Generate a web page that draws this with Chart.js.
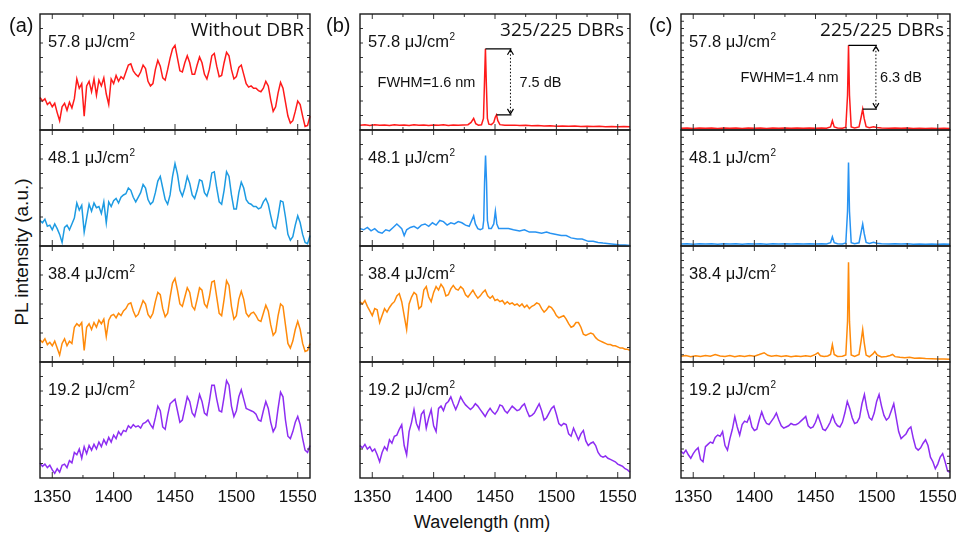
<!DOCTYPE html>
<html>
<head>
<meta charset="utf-8">
<script src="https://cdn.jsdelivr.net/npm/chart.js@4.4.1/dist/chart.umd.min.js"></script>
<style>
html,body{margin:0;padding:0;background:#fff;}
#fig{position:relative;width:958px;height:533px;overflow:hidden;font-family:"Liberation Sans",Arial,sans-serif;color:#111;}
.pane{position:absolute;}
.lbl{position:absolute;white-space:nowrap;line-height:1;}
</style>
</head>
<body>
<div id="fig">
  <div class="lbl" style="left:9px;top:15px;font-size:20px">(a)</div>
  <div class="lbl" style="left:326px;top:15px;font-size:20px">(b)</div>
  <div class="lbl" style="left:649px;top:15px;font-size:20px">(c)</div>
  <div class="lbl" style="left:21px;top:252px;font-size:19px;transform:translate(-50%,-50%) rotate(-90deg)">PL intensity (a.u.)</div>
  <div class="lbl" style="left:482px;top:522px;font-size:18px;transform:translate(-50%,-50%)">Wavelength (nm)</div>
</div>
<script>
// wavelength grid (nm) for the broad spectra
const WL = [
  1340,1342,1344,1346,1348,1350,1352,1354,1356,1358,
  1360,1362,1364,1366,1368,1370,1372,1374,1376,1378,
  1380,1382,1384,1386,1388,1390,1392,1394,1396,1398,
  1400,1402,1404,1406,1408,1410,1412,1414,1416,1418,
  1420,1422,1424,1426,1428,1430,1432,1434,1436,1438,
  1440,1442,1444,1446,1448,1450,1452,1454,1456,1458,
  1460,1462,1464,1466,1468,1470,1472,1474,1476,1478,
  1480,1482,1484,1486,1488,1490,1492,1494,1496,1498,
  1500,1502,1504,1506,1508,1510,1512,1514,1516,1518,
  1520,1522,1524,1526,1528,1530,1532,1534,1536,1538,
  1540,1542,1544,1546,1548,1550,1552,1554,1556,1558,
  1560
];
const X_TICKS = [1350, 1400, 1450, 1500, 1550];
const X_MINOR = [1375, 1425, 1475, 1525];
const FLUENCE = ['57.8', '48.1', '38.4', '19.2'];

// (a) without DBR
const a1 = [
  28,25,27,22,24,20,23,15,8,20,
  23,17,24,19,27,44,36,40,12,38,
  42,33,44,30,43,38,45,31,22,44,
  40,47,42,46,44,50,56,57,51,48,
  46,50,56,53,42,38,40,52,60,55,
  45,43,52,62,70,73,62,51,50,58,
  64,58,48,48,56,63,58,48,44,52,
  64,66,55,46,47,58,67,64,52,44,
  46,54,56,48,40,37,38,36,36,34,
  33,36,42,38,26,16,20,32,41,36,
  24,12,6,8,16,25,22,12,3,4,
  12
];
const a2 = [
  22,20,23,17,18,14,19,15,10,3,
  16,18,14,19,24,37,31,35,12,24,
  36,30,37,33,34,28,38,20,38,34,
  39,41,37,42,44,45,50,48,42,38,
  42,46,53,50,40,36,38,46,56,60,
  50,40,36,44,60,71,62,48,43,50,
  60,54,44,41,48,57,56,46,43,50,
  63,64,50,38,36,48,64,60,44,32,
  32,46,55,50,40,37,36,34,34,32,
  33,38,41,36,26,17,15,26,39,38,
  25,10,5,8,18,26,20,10,3,2,
  9
];
const a3 = [
  19,17,20,15,17,14,18,12,6,16,
  20,14,18,16,30,33,31,34,10,30,
  33,28,34,30,36,33,37,22,36,40,
  41,38,42,40,44,46,50,51,44,39,
  41,47,53,50,41,38,42,52,60,58,
  46,39,42,56,68,72,62,50,48,56,
  64,60,48,45,54,64,62,50,47,56,
  69,70,56,42,40,54,70,66,48,37,
  40,54,61,54,42,39,42,43,40,36,
  35,42,49,44,32,23,26,40,50,48,
  32,16,12,18,28,35,28,16,9,10,
  16
];
const a4 = [
  13,10,12,9,11,7,4,8,5,11,
  12,9,15,13,22,20,25,17,27,21,
  28,24,29,25,31,27,33,29,35,31,
  37,34,40,37,41,40,45,43,46,44,
  45,43,47,48,50,46,43,52,62,58,
  44,42,54,64,66,68,58,48,50,60,
  70,66,56,53,62,72,66,56,54,66,
  80,80,68,58,57,70,84,80,62,53,
  58,70,76,68,60,59,58,57,55,50,
  49,58,66,60,48,40,44,60,74,70,
  50,36,34,40,48,53,46,34,24,22,
  28
];

// (b) 325/225 DBRs  [wavelength, intensity]
const b1 = [
  [1340,4],[1344,4.6],[1348,3.8],[1352,4.5],[1356,4],[1360,4.4],[1364,3.9],[1368,4.6],[1372,4],[1376,4.3],
  [1380,3.8],[1384,4.5],[1388,4],[1392,4.4],[1396,3.9],[1400,4.3],[1404,4],[1408,4.5],[1412,3.9],[1416,4.3],
  [1420,4],[1424,4.4],[1428,4.6],[1430.5,6.5],[1432.6,10],[1434.3,5.5],[1436.5,4.2],[1439,4.5],[1440.6,10],[1441.4,40],
  [1442.2,70],[1443,38],[1443.8,10],[1445,5],[1447,4.6],[1449,6.5],[1450.2,11],[1451.2,13],[1452.3,8],[1454,4.6],
  [1458,4.2],[1462,4],[1466,4.2],[1470,3.8],[1475,4],[1480,3.6],[1485,3.8],[1490,3.4],[1495,3.6],[1500,3.3],
  [1505,3.5],[1510,3.2],[1515,3.4],[1520,3.1],[1525,3.3],[1530,3],[1535,3.2],[1540,2.9],[1545,3.1],[1550,2.8],
  [1555,3],[1560,2.7]
];
const b2 = [
  [1340,15],[1343,14],[1346,16],[1349,13],[1352,15],[1355,12],[1358,11],[1361,14],[1364,13],[1367,16],
  [1370,19],[1372,17],[1374,15],[1376,9],[1378,14],[1381,16],[1384,17],[1387,15],[1390,18],[1393,19],
  [1396,17],[1399,20],[1402,18],[1405,22],[1408,21],[1411,18],[1414,20],[1417,19],[1420,21],[1423,20],
  [1426,18],[1429,17],[1431,22],[1432.6,26],[1434,19],[1436,15],[1438,14],[1440,15],[1440.8,22],[1441.5,55],
  [1442.3,78],[1443.1,55],[1443.8,22],[1445,15],[1447,15],[1449,19],[1450.3,30],[1451.5,19],[1453,15],[1457,15],
  [1461,15],[1465,14],[1470,13],[1474,14],[1478,12],[1483,12],[1488,11],[1492,12],[1495,11],[1500,10],
  [1504,9],[1508,9],[1512,7],[1517,6],[1521,6],[1526,4],[1530,4],[1534,3],[1538,2.5],[1543,2],
  [1547,1.5],[1551,1],[1556,0.8],[1560,0.5]
];
const b3 = [
  52,50,53,48,44,40,46,45,34,40,
  46,43,47,50,52,57,59,52,40,28,
  50,56,60,58,46,48,62,65,56,52,
  60,65,62,67,64,57,58,63,66,63,
  62,65,63,58,56,59,62,58,55,57,
  60,62,57,55,57,53,54,52,53,50,
  52,50,51,49,50,48,50,47,49,46,
  48,49,51,50,46,43,45,48,47,44,
  40,38,39,40,37,33,30,31,34,34,
  30,24,23,24,25,24,21,19,18,17,
  16,15,15,14,14,13,12,12,11,11,
  10
];
const b4 = [
  28,26,29,25,27,23,25,20,14,22,
  27,24,33,30,36,37,42,46,28,20,
  40,48,59,47,42,55,58,43,52,59,
  45,40,60,62,58,64,66,70,64,59,
  64,70,66,63,61,59,61,64,62,59,
  56,53,57,60,57,55,58,63,62,58,
  56,59,62,60,58,59,62,64,58,53,
  54,56,60,64,58,50,52,56,60,62,
  55,47,45,47,46,38,36,43,38,33,
  38,41,32,28,30,31,28,22,19,18,
  19,17,16,15,14,12,11,10,8,7,
  5
];

// (c) 225/225 DBRs
const c1 = [
  [1340,1.5],[1345,1.8],[1350,1.4],[1355,1.7],[1360,1.5],[1365,1.8],[1370,1.4],[1375,1.7],[1380,1.5],[1385,1.8],
  [1390,1.4],[1395,1.7],[1400,1.5],[1405,1.8],[1410,1.4],[1415,1.7],[1420,1.5],[1425,1.8],[1430,1.5],[1435,1.7],
  [1440,1.5],[1445,1.8],[1450,1.6],[1455,1.8],[1459,1.6],[1462.3,2.6],[1463.8,8],[1465.3,2.6],[1468,1.8],[1472,1.6],
  [1474.8,2.4],[1476.2,30],[1477,73],[1477.8,30],[1479.2,2.6],[1482,1.8],[1485.6,2.6],[1487.3,11],[1488.6,18],[1489.8,10],
  [1491.4,2.8],[1494,2],[1497.5,2.8],[1500,2.1],[1504,1.8],[1510,1.5],[1515,1.7],[1520,1.5],[1525,1.7],[1530,1.4],
  [1535,1.6],[1540,1.4],[1545,1.6],[1550,1.3],[1555,1.5],[1560,1.3]
];
const c2 = [
  [1340,1.7],[1345,2],[1350,1.6],[1355,1.9],[1360,1.7],[1365,2],[1370,1.6],[1375,1.9],[1380,1.7],[1385,2],
  [1390,1.6],[1395,1.9],[1400,1.7],[1405,2],[1410,1.6],[1415,1.9],[1420,1.7],[1425,2],[1430,1.7],[1435,1.9],
  [1440,1.7],[1445,2],[1450,1.8],[1455,2],[1459,1.8],[1462.3,2.8],[1463.8,8],[1465.3,2.8],[1468,2],[1472,1.8],
  [1474.8,2.6],[1476.2,30],[1477,72],[1477.8,30],[1479.2,2.8],[1482,2],[1485.6,2.8],[1487.3,12],[1488.6,19],[1489.8,11],
  [1491.4,3],[1494,2.2],[1497.5,3.2],[1500,2.3],[1504,2],[1510,1.7],[1515,1.9],[1520,1.7],[1525,1.9],[1530,1.6],
  [1535,1.8],[1540,1.6],[1545,1.8],[1550,1.5],[1555,1.7],[1560,1.5]
];
const c3 = [
  [1340,5],[1344,5.6],[1348,4.6],[1352,5.4],[1356,4.8],[1360,5.6],[1364,5],[1368,6.5],[1372,5.2],[1376,4.8],
  [1380,5.5],[1384,4.6],[1388,5.3],[1392,4.8],[1396,5.6],[1400,5],[1404,6.4],[1408,8],[1411,5.8],[1414,5],
  [1418,5.6],[1422,4.8],[1426,5.4],[1430,4.6],[1434,5.2],[1438,4.7],[1442,5.3],[1446,4.8],[1450,6.5],[1452,8],
  [1454,5.4],[1457,4.8],[1460,5.2],[1462.3,6.5],[1463.8,15],[1465.3,6.5],[1468,4.8],[1472,5],[1474.8,6],[1476.2,35],
  [1477,86],[1477.8,35],[1479.2,6],[1482,4.8],[1485.6,6.5],[1487.3,18],[1488.6,28],[1489.8,17],[1491.4,6],[1494,4.5],
  [1497,7],[1498.5,9],[1500.5,6],[1504,4.4],[1508,4.8],[1511,5.6],[1513,6.5],[1515,4.6],[1519,4],[1523,3.6],
  [1527,4],[1531,3.2],[1535,3.5],[1540,3],[1545,2.8],[1550,2.6],[1555,2.5],[1560,2.3]
];
const c4 = [
  23,21,24,20,17,21,24,26,16,14,
  27,29,31,30,35,37,36,40,28,24,
  34,42,53,44,37,46,49,48,53,44,
  41,42,50,57,51,47,46,49,52,56,
  50,45,43,44,45,47,46,46,47,49,
  51,53,45,43,44,48,54,48,42,41,
  44,48,54,48,45,44,48,56,66,60,
  52,47,48,52,64,72,60,52,50,56,
  66,72,62,54,50,52,58,64,52,40,
  34,36,38,42,44,34,26,24,26,30,
  33,28,18,14,8,12,18,21,14,6,
  5
];

// panel layout
const COL_X = [40, 360, 681];
const COL_W = [270, 270, 269];
const ROW_Y = [14, 130, 246, 362];
const ROW_H = 116;
const COLORS = ['#ff1a1a', '#1d9be2', '#ff8a0a', '#8d2df2'];
const COLORS_B = ['#ff1a1a', '#2793f2', '#ff8a0a', '#8d2df2'];

const grid = ys => ys.map((v, i) => ({x: WL[i], y: v}));
const pairs = ps => ps.map(([x, y]) => ({x, y}));

const panels = [
  {c:0, r:0, pts:grid(a1), title:'Without DBR'},
  {c:0, r:1, pts:grid(a2)},
  {c:0, r:2, pts:grid(a3)},
  {c:0, r:3, pts:grid(a4)},
  {c:1, r:0, pts:pairs(b1), title:'325/225 DBRs',
    mark:{peak:[1442.2,70], side:[1451.2,13], at:1462.6, dB:'7.5 dB', gap:9, fwhm:'FWHM=1.6 nm'}},
  {c:1, r:1, pts:pairs(b2)},
  {c:1, r:2, pts:grid(b3)},
  {c:1, r:3, pts:grid(b4)},
  {c:2, r:0, pts:pairs(c1), title:'225/225 DBRs',
    mark:{peak:[1477,73], side:[1488.6,18], at:1499.4, dB:'6.3 dB', gap:4, fwhm:'FWHM=1.4 nm'}},
  {c:2, r:1, pts:pairs(c2)},
  {c:2, r:2, pts:pairs(c3)},
  {c:2, r:3, pts:grid(c4)}
];

const deco = {
  id: 'deco',
  afterDatasetsDraw(chart, args, o) {
    const {ctx, chartArea: a} = chart;
    const x = chart.scales.x, y = chart.scales.y;
    const seg = (x1, y1, x2, y2) => { ctx.moveTo(x1, y1); ctx.lineTo(x2, y2); };
    ctx.save();
    // inward ticks
    ctx.strokeStyle = '#333';
    ctx.lineWidth = 1;
    ctx.beginPath();
    X_TICKS.forEach(v => { const p = x.getPixelForValue(v); seg(p, a.bottom, p, a.bottom - 6); seg(p, a.top, p, a.top + 5); });
    X_MINOR.forEach(v => { const p = x.getPixelForValue(v); seg(p, a.bottom, p, a.bottom - 3); seg(p, a.top, p, a.top + 3); });
    for (let v = o.yStep; v < 99; v += o.yStep) {
      const p = y.getPixelForValue(v);
      seg(a.left, p, a.left + 3, p); seg(a.right, p, a.right - 3, p);
    }
    ctx.stroke();
    ctx.lineWidth = 1.4;
    ctx.strokeStyle = '#1a1a1a';
    ctx.strokeRect(a.left, a.top, a.width, a.height);

    ctx.fillStyle = '#111';
    ctx.textBaseline = 'alphabetic';
    // fluence label
    ctx.font = '16.5px "Liberation Sans", Arial, sans-serif';
    ctx.textAlign = 'left';
    const t = o.fluence + ' \u03bcJ/cm';
    ctx.fillText(t, a.left + 8, a.top + 33);
    const w = ctx.measureText(t).width;
    ctx.font = '10px "Liberation Sans", Arial, sans-serif';
    ctx.fillText('2', a.left + 8 + w + 0.5, a.top + 26);

    if (o.title) {
      ctx.font = '19px "Open Sans", sans-serif';
      ctx.textAlign = 'right';
      ctx.fillText(o.title, a.right - 6, a.top + 22);
    }
    if (o.mark) {
      const m = o.mark;
      const xa = x.getPixelForValue(m.at);
      const yt = y.getPixelForValue(m.peak[1]), yb = y.getPixelForValue(m.side[1]);
      ctx.strokeStyle = '#000';
      ctx.lineWidth = 1.2;
      ctx.beginPath();
      seg(x.getPixelForValue(m.peak[0]), yt, xa + 1, yt);
      seg(x.getPixelForValue(m.side[0]), yb, xa + 1, yb);
      // arrow heads
      seg(xa - 3, yt + 6, xa, yt + 1); seg(xa, yt + 1, xa + 3, yt + 6);
      seg(xa - 3, yb - 6, xa, yb - 1); seg(xa, yb - 1, xa + 3, yb - 6);
      ctx.stroke();
      ctx.lineWidth = 1;
      ctx.setLineDash([1.5, 2]);
      ctx.beginPath();
      seg(xa, yt + 2, xa, yb - 2);
      ctx.stroke();
      ctx.setLineDash([]);
      const ym = (yt + yb) / 2 + 5;
      ctx.font = '14.5px "Liberation Sans", Arial, sans-serif';
      ctx.textAlign = 'left';
      ctx.fillText(m.dB, xa + m.gap, ym);
      ctx.textAlign = 'right';
      ctx.fillText(m.fwhm, x.getPixelForValue(m.peak[0]) - 10, ym);
    }
    if (o.xLabels) {
      ctx.font = '17px "Liberation Sans", Arial, sans-serif';
      ctx.textAlign = 'center';
      X_TICKS.forEach(v => ctx.fillText(String(v), x.getPixelForValue(v), a.bottom + 24));
    }
    ctx.restore();
  }
};

const fig = document.getElementById('fig');
const PAD = 6, PAD_B = 32;
panels.forEach(p => {
  const bottomRow = p.r === 3;
  const div = document.createElement('div');
  div.className = 'pane';
  div.style.left = (COL_X[p.c] - PAD) + 'px';
  div.style.top = (ROW_Y[p.r] - PAD) + 'px';
  div.style.width = (COL_W[p.c] + 2 * PAD) + 'px';
  div.style.height = (ROW_H + PAD + (bottomRow ? PAD_B : PAD)) + 'px';
  const cv = document.createElement('canvas');
  div.appendChild(cv);
  fig.insertBefore(div, fig.firstChild);
  const col = (p.c === 0 ? COLORS : COLORS_B)[p.r];
  new Chart(cv, {
    type: 'line',
    data: {datasets: [{data: p.pts, borderColor: col, borderWidth: 1.5, pointRadius: 0, tension: 0, clip: 1}]},
    options: {
      responsive: true,
      maintainAspectRatio: false,
      animation: false,
      events: [],
      layout: {padding: {left: PAD, right: PAD, top: PAD, bottom: bottomRow ? PAD_B : PAD}},
      scales: {
        x: {type: 'linear', min: 1340, max: 1560, display: false},
        y: {min: 0, max: 100, display: false}
      },
      plugins: {
        legend: {display: false},
        tooltip: {enabled: false},
        deco: {fluence: FLUENCE[p.r], title: p.title, mark: p.mark, xLabels: bottomRow, yStep: p.c === 2 ? 6.25 : 12.5}
      }
    },
    plugins: [deco]
  });
});
</script>
</body>
</html>
